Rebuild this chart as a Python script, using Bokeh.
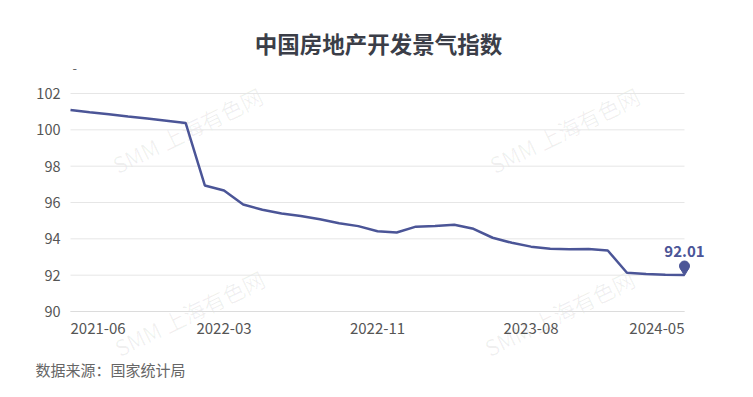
import math
from bokeh.plotting import figure
from bokeh.models import Range1d, Label
from bokeh.embed import file_html
from bokeh.resources import INLINE

# ---- data ----
dates = ["2021-06", "2021-07", "2021-08", "2021-09", "2021-10", "2021-11", "2021-12",
         "2022-02", "2022-03", "2022-04", "2022-05", "2022-06", "2022-07", "2022-08",
         "2022-09", "2022-10", "2022-11", "2022-12",
         "2023-02", "2023-03", "2023-04", "2023-05", "2023-06", "2023-07", "2023-08",
         "2023-09", "2023-10", "2023-11", "2023-12",
         "2024-02", "2024-03", "2024-04", "2024-05"]
values = [101.09, 100.97, 100.86, 100.73, 100.62, 100.50, 100.38,
          96.94, 96.66, 95.89, 95.60, 95.40, 95.26, 95.08,
          94.86, 94.70, 94.42, 94.35,
          94.67, 94.71, 94.78, 94.55, 94.06, 93.78, 93.57,
          93.45, 93.42, 93.44, 93.36,
          92.13, 92.07, 92.02, 92.01]
y_ticks = [90, 92, 94, 96, 98, 100, 102]
x_label_dates = ["2021-06", "2022-03", "2022-11", "2023-08", "2024-05"]
title_text = "中国房地产开发景气指数"
source_text = "数据来源：国家统计局"
unit_text = "-"
watermark_text = "SMM 上海有色网"

FONT = "Noto Sans CJK SC"
LINE_COLOR = "#4b5597"

# canvas and plot-area geometry (pixels)
W, H = 737, 381
PL, PR, PT, PB = 70, 684, 93, 311   # plot area edges in canvas pixels
n = len(values)
x = list(range(n))
ppx = (PR - PL) / (n - 1)
ppu = (PB - PT) / (max(y_ticks) - min(y_ticks))

# frame covers the whole canvas so nothing is clipped
xr = Range1d(-PL / ppx, (W - PL) / ppx)
yr = Range1d(min(y_ticks) - (H - PB) / ppu, max(y_ticks) + PT / ppu)

p = figure(width=W, height=H, output_backend="svg", toolbar_location=None,
           x_range=xr, y_range=yr, min_border=0)
p.axis.visible = False
p.grid.visible = False
p.outline_line_color = None
p.background_fill_color = "white"
p.border_fill_color = "white"

def sy(page_y):
    return H - page_y

# grid lines across the data span
p.segment(x0=[x[0]] * len(y_ticks), y0=y_ticks, x1=[x[-1]] * len(y_ticks), y1=y_ticks,
          line_color="#e6e6e6", line_width=1)
p.segment(x0=[x[0]], y0=[y_ticks[0]], x1=[x[-1]], y1=[y_ticks[0]], line_color="#dcdcdc", line_width=1)

# watermarks
wm_pos = [(113, 165), (490, 165), (115, 348), (485, 348)]
for wx, wy in wm_pos:
    p.add_layout(Label(x=wx, y=sy(wy), x_units="screen", y_units="screen", text=watermark_text,
                       angle=math.radians(26), text_font=FONT, text_font_size="22px",
                       text_color="#000000", text_alpha=0.06, text_align="left",
                       text_baseline="middle", level="underlay"))

# main line
p.line(x, values, line_color=LINE_COLOR, line_width=2.5)

# pin marker at last point
p.scatter([x[-1]], [values[-1] + 4 / ppu], marker="inverted_triangle", size=8,
          fill_color=LINE_COLOR, line_color=LINE_COLOR)
p.scatter([x[-1]], [values[-1] + 9 / ppu], marker="circle", size=10,
          fill_color=LINE_COLOR, line_color=LINE_COLOR)
p.add_layout(Label(x=x[-1], y=values[-1], y_offset=23, text=f"{values[-1]:.2f}",
                   text_font=FONT, text_font_size="15px", text_font_style="bold",
                   text_color=LINE_COLOR, text_align="center", text_baseline="middle"))

# y tick labels
for t in y_ticks:
    p.add_layout(Label(x=60, x_units="screen", y=t, text=str(t), text_font=FONT,
                       text_font_size="14.5px", text_color="#555555", text_align="right",
                       text_baseline="middle"))

# x tick labels
for i, d in enumerate(x_label_dates):
    idx = dates.index(d)
    align = "left" if i == 0 else ("right" if i == len(x_label_dates) - 1 else "center")
    p.add_layout(Label(x=idx, y=sy(328), y_units="screen", text=d, text_font=FONT,
                       text_font_size="15px", text_color="#555555", text_align=align,
                       text_baseline="middle"))

# unit label
p.add_layout(Label(x=72, y=sy(67), x_units="screen", y_units="screen", text=unit_text,
                   text_font=FONT, text_font_size="13px", text_color="#666666",
                   text_align="left", text_baseline="middle"))

# title
p.add_layout(Label(x=378, y=sy(42), x_units="screen", y_units="screen", text=title_text,
                   text_font=FONT, text_font_size="22.5px", text_font_style="bold",
                   text_color="#3b3e48", text_align="center", text_baseline="middle"))

# source
p.add_layout(Label(x=35, y=sy(369), x_units="screen", y_units="screen", text=source_text,
                   text_font=FONT, text_font_size="15px", text_color="#666666",
                   text_align="left", text_baseline="middle"))

open("out.html", "w").write(file_html(p, INLINE))
